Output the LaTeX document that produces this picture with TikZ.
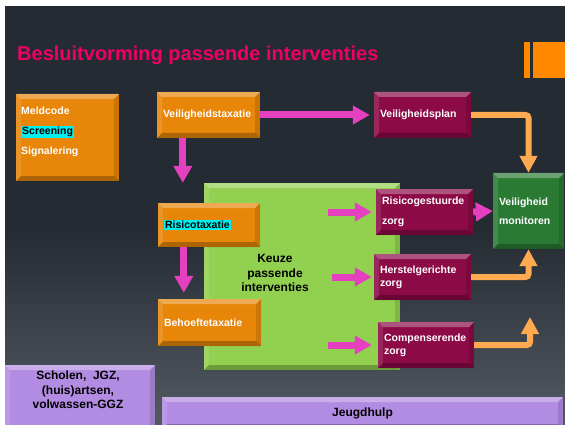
\documentclass[tikz,border=0pt]{standalone}
\usepackage{fontspec}
\setmainfont{Liberation Sans}
\usetikzlibrary{arrows.meta,positioning}

\definecolor{bgtop}{RGB}{37,43,51}
\definecolor{bgbot}{RGB}{82,90,98}
\definecolor{titlepink}{RGB}{240,0,100}
\definecolor{orangebar}{RGB}{255,136,0}
\definecolor{orangebox}{RGB}{232,134,10}
\definecolor{maroonbox}{RGB}{140,10,70}
\definecolor{darkgreen}{RGB}{42,122,52}
\definecolor{lightgreen}{RGB}{146,208,80}
\definecolor{purplebox}{RGB}{178,140,226}
\definecolor{pinkarrow}{RGB}{228,64,192}
\definecolor{orangearrow}{RGB}{255,170,80}
\definecolor{cyanmark}{RGB}{0,240,240}

\newcommand{\bxfont}{\fontsize{10.5}{13}\selectfont\bfseries}
\newcommand{\bigfont}{\fontsize{12}{14.5}\selectfont\bfseries}
\newcommand{\cyanbox}[1]{{\setlength{\fboxsep}{1pt}\colorbox{cyanmark}{\color{black}#1}}}

\tikzset{
  bevelled/.style={path picture={
    \coordinate (nw) at (path picture bounding box.north west);
    \coordinate (se) at (path picture bounding box.south east);
    \coordinate (ne) at (nw -| se);
    \coordinate (sw) at (se -| nw);
    \fill[white,opacity=.3] (nw) -- (ne) -- ([shift={(-5pt,-5pt)}]ne) -- ([shift={(5pt,-5pt)}]nw) -- cycle;
    \fill[white,opacity=.12] (nw) -- ([shift={(5pt,-5pt)}]nw) -- ([shift={(5pt,5pt)}]sw) -- (sw) -- cycle;
    \fill[black,opacity=.12] (ne) -- ([shift={(-5pt,-5pt)}]ne) -- ([shift={(-5pt,5pt)}]se) -- (se) -- cycle;
    \fill[black,opacity=.25] (sw) -- ([shift={(5pt,5pt)}]sw) -- ([shift={(-5pt,5pt)}]se) -- (se) -- cycle;
  }},
  box/.style={bevelled, inner xsep=6pt, inner ysep=0pt, align=left, text=white, font=\bxfont},
  pinkline/.style={draw=pinkarrow, line width=7pt, -{Triangle[length=17pt,width=18pt]}},
  orangeline/.style={draw=orangearrow, line width=6pt, rounded corners=3pt, -{Triangle[length=17pt,width=17pt]}}
}

\begin{document}
\begin{tikzpicture}[x=1pt, y=-1pt]

\useasboundingbox (0,0) rectangle (565,425);

% Background
\fill[white] (0,0) rectangle (565,425);
\fill[bgtop] (5,6) rectangle (565,230);
\shade[top color=bgtop, bottom color=bgbot] (5,229.5) rectangle (565,425);

% Title
\node[anchor=base west, inner sep=0pt, text=titlepink, font=\fontsize{20}{24}\selectfont\bfseries] (title) at (17,61) {Besluitvorming passende interventies};
\fill[orangebar] (524,42) rectangle (530,78);
\fill[orangebar] (533,42) rectangle (565,78);

% === Keuze block ===
\node[bevelled, fill=lightgreen, minimum width=196pt, minimum height=187pt] (keuze) at (302,276.5) {};
\node[align=center, font=\bigfont] (keuzetxt) at (275,273) {Keuze\\passende\\interventies};

% === Orange column ===
\node[box, fill=orangebox, text width=91pt, minimum height=87pt] (meld) at (67.5,137.5) {};
\node[anchor=north west, inner sep=0pt, align=left, text=white, font=\bxfont] (meldtxt) at (21,107) {Meldcode\\[7pt]\cyanbox{Screening}\\[7pt]Signalering};

\node[box, fill=orangebox, text width=91pt, minimum height=46pt] (vt) at (208.5,115) {Veiligheidstaxatie};
\node[box, fill=orangebox, text width=90pt, minimum height=44pt] (rt) at (209,225) {\cyanbox{Risicotaxatie}};
\node[box, fill=orangebox, text width=91pt, minimum height=47pt] (bt) at (209.5,322.5) {Behoeftetaxatie};

% === Maroon column ===
\node[box, fill=maroonbox, text width=85pt, minimum height=46pt] (vp) at (422.5,115) {Veiligheidsplan};
\node[box, fill=maroonbox, text width=85pt, minimum height=46pt] (rg) at (424.5,212) {Risicogestuurde\\[7pt]zorg};
\node[box, fill=maroonbox, text width=85pt, minimum height=46pt] (hg) at (422.5,277) {Herstelgerichte\\zorg};
\node[box, fill=maroonbox, text width=84pt, minimum height=46pt] (cz) at (426,345) {Compenserende\\zorg};

\node[box, fill=darkgreen, text width=59pt, minimum height=76pt] (mon) at (528.5,211) {Veiligheid\\[6pt]monitoren};

% === Pink arrows ===
\coordinate (rgin) at (328,212);
\coordinate (hgin) at (332,277);
\coordinate (czin) at (328,345);

\draw[pinkline, shorten >=4pt] (vt.east) -- (vp.west);
\draw[pinkline, shorten >=20pt] ([xshift=26pt]vt.south west) -- ([xshift=25pt]rt.north west);
\draw[pinkline, shorten >=6pt] ([xshift=26pt]rt.south west) -- ([xshift=26pt]bt.north west);
\draw[pinkline, shorten >=4pt] (rgin) -- (rg.west);
\draw[pinkline, shorten >=2pt] (hgin) -- (hg.west);
\draw[pinkline, shorten >=6pt] (czin) -- (cz.west);
\draw[pinkline] (rg.east) -- (mon.west);

% === Orange arrows ===
\coordinate (cztip) at (530,317);

\draw[orangeline] (vp.east) -| (mon.north);
\draw[orangeline] (hg.east) -| (mon.south);
\draw[orangeline] (cz.east) -| (cztip);

% === Purple bars ===
\node[bevelled, fill=purplebox, minimum width=150pt, minimum height=70pt] (scholen) at (80,400) {};
\node[align=center, font=\bigfont] (scholentxt) at (78,390) {Scholen,\ \ JGZ,\\(huis)artsen,\\volwassen-GGZ};
\node[bevelled, fill=purplebox, minimum width=401pt, minimum height=32pt, font=\bigfont] (jeugd) at (362.5,413) {Jeugdhulp};

\end{tikzpicture}
\end{document}
